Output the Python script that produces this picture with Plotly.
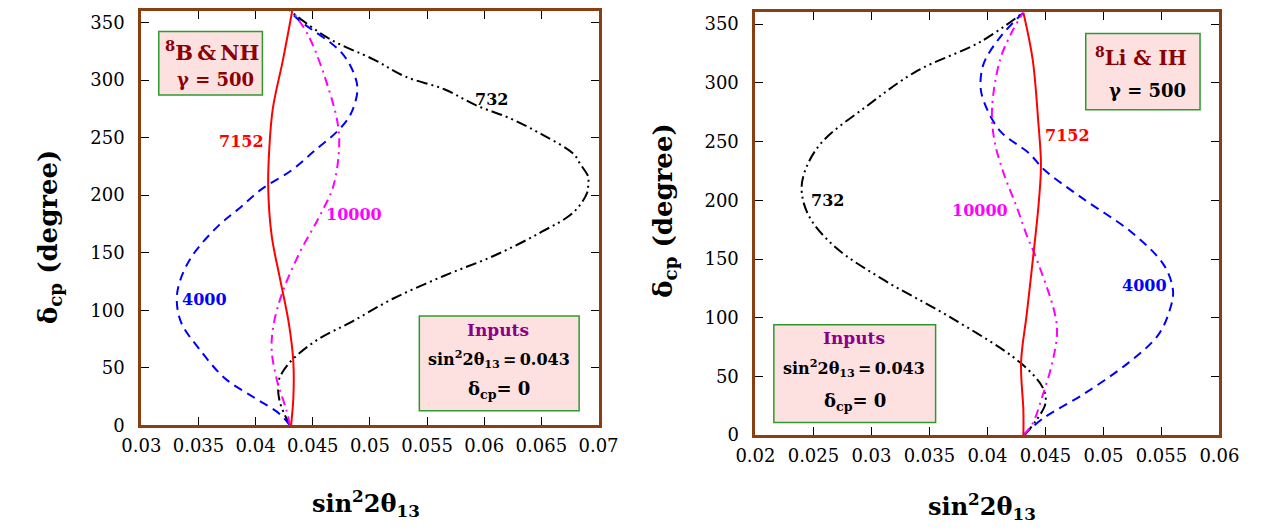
import plotly.graph_objects as go

W, H = 1275, 531
BROWN = "#8B3E12"
SERIF = "DejaVu Serif"

# ---------------- Left panel: 8B & NH ----------------
L732_delta = [0, 21, 38, 47, 58, 75, 90, 110, 130, 148, 168, 185, 202, 210, 216, 227, 236, 253, 267, 278, 292, 303, 318, 335, 354, 360]
L732_s2t = [0.0430, 0.0421, 0.0420, 0.0424, 0.0433, 0.0455, 0.0484, 0.0520, 0.0565, 0.0610, 0.0650, 0.0678, 0.0690, 0.0691,
            0.0691, 0.0684, 0.0678, 0.0650, 0.0622, 0.0593, 0.0565, 0.0531, 0.0503, 0.0466, 0.0438, 0.0430]

L4000_delta = [0, 10, 24, 41, 66, 89, 109, 126, 148, 174, 188, 205, 222, 239, 256, 270, 290, 303, 324, 352, 360]
L4000_s2t = [0.0430, 0.0421, 0.0399, 0.0373, 0.0351, 0.0335, 0.0331, 0.0334, 0.0345, 0.0368, 0.0385, 0.0405, 0.0432,
             0.0452, 0.0472, 0.0483, 0.0489, 0.0487, 0.0475, 0.0438, 0.0430]

L10000_delta = [0, 13, 38, 66, 89, 117, 151, 180, 208, 241, 261, 292, 337, 360]
L10000_s2t = [0.0430, 0.0427, 0.0419, 0.0414, 0.0416, 0.0424, 0.0439, 0.0455, 0.0468, 0.0473, 0.0472, 0.0464, 0.0447, 0.0432]

L7152_delta = [0, 24, 55, 89, 129, 165, 207, 241, 275, 318, 360]
L7152_s2t = [0.0431, 0.0433, 0.0433, 0.0429, 0.0421, 0.0414, 0.0411, 0.0412, 0.0415, 0.0424, 0.0432]

# ---------------- Right panel: 8Li & IH ----------------
R732_delta = [0, 12.5, 27, 40, 62, 101, 132, 160, 185, 206, 223, 248, 281, 310, 335, 360]
R732_s2t = [0.0432, 0.0442, 0.0450, 0.0448, 0.0428, 0.0367, 0.0311, 0.0269, 0.0247, 0.0240, 0.0242, 0.0256, 0.0297,
            0.0339, 0.0394, 0.0431]

R4000_delta = [0, 15, 35, 62, 85, 106, 123, 145, 173, 201, 226, 240, 259, 284, 298, 317, 339, 360]
R4000_s2t = [0.0431, 0.0449, 0.0483, 0.0522, 0.0547, 0.0557, 0.0560, 0.0552, 0.0524, 0.0483, 0.0449, 0.0436, 0.0411,
             0.0397, 0.0394, 0.0397, 0.0411, 0.0431]

R10000_delta = [0, 10, 32, 62, 87, 104, 151, 170, 195, 223, 251, 278, 320, 345, 360]
R10000_s2t = [0.0431, 0.0439, 0.0447, 0.0456, 0.0460, 0.0458, 0.0442, 0.0434, 0.0425, 0.0414, 0.0406, 0.0404, 0.0411,
              0.0422, 0.0431]

R7152_delta = [0, 21, 62, 104, 157, 195, 223, 237, 265, 320, 360]
R7152_s2t = [0.0431, 0.0431, 0.0429, 0.0434, 0.0440, 0.0444, 0.0446, 0.0446, 0.0444, 0.0439, 0.0431]

# tick labels
L_xticks = [0.03, 0.035, 0.04, 0.045, 0.05, 0.055, 0.06, 0.065, 0.07]
L_xtext = ["0.03", "0.035", "0.04", "0.045", "0.05", "0.055", "0.06", "0.065", "0.07"]
R_xticks = [0.02, 0.025, 0.03, 0.035, 0.04, 0.045, 0.05, 0.055, 0.06]
R_xtext = ["0.02", "0.025", "0.03", "0.035", "0.04", "0.045", "0.05", "0.055", "0.06"]
yticks = [0, 50, 100, 150, 200, 250, 300, 350]
ytext = ["0", "50", "100", "150", "200", "250", "300", "350"]

# curve labels (name, x, y, colour) per panel
L_labels = [("7152", 0.03873, 246.6, "red"), ("732", 0.06068, 283.5, "black"),
            ("10000", 0.0486, 183.5, "magenta"), ("4000", 0.03555, 109.7, "blue")]
R_labels = [("7152", 0.04688, 255.6, "red"), ("732", 0.02625, 199.9, "black"),
            ("10000", 0.03938, 191.2, "magenta"), ("4000", 0.05358, 127.6, "blue")]

STY = {
    "732": dict(color="black", width=2, dash="11px,4px,2px,4px,2px,4px"),
    "4000": dict(color="blue", width=2, dash="9px,6px"),
    "10000": dict(color="magenta", width=2, dash="9px,5px,2px,5px"),
    "7152": dict(color="red", width=2),
}

fig = go.Figure()

def add(xs, ys, key, xa, ya):
    fig.add_trace(go.Scatter(x=xs, y=ys, mode="lines", line=dict(shape="spline", smoothing=1.0, **STY[key]),
                             xaxis=xa, yaxis=ya, hoverinfo="skip"))

add(L732_s2t, L732_delta, "732", "x", "y")
add(L4000_s2t, L4000_delta, "4000", "x", "y")
add(L10000_s2t, L10000_delta, "10000", "x", "y")
add(L7152_s2t, L7152_delta, "7152", "x", "y")
add(R732_s2t, R732_delta, "732", "x2", "y2")
add(R4000_s2t, R4000_delta, "4000", "x2", "y2")
add(R10000_s2t, R10000_delta, "10000", "x2", "y2")
add(R7152_s2t, R7152_delta, "7152", "x2", "y2")

def px(xp):
    return xp / W

def py(yp):
    return 1 - yp / H

axis_common = dict(showline=True, linecolor=BROWN, linewidth=3, mirror="ticks", ticks="inside", ticklen=8,
                   tickwidth=1, tickcolor="black", showgrid=False, zeroline=False,
                   tickfont=dict(family=SERIF, size=18, color="black"))

fig.update_layout(
    width=W, height=H, margin=dict(l=0, r=0, t=0, b=0),
    paper_bgcolor="white", plot_bgcolor="white", showlegend=False,
    font=dict(family=SERIF),
    xaxis=dict(domain=[px(117), px(589)], range=[0.03, 0.07], tickvals=L_xticks, ticktext=L_xtext,
               anchor="y", ticklabelstandoff=2, **axis_common),
    yaxis=dict(domain=[py(425), py(1)], range=[0, 360], tickvals=yticks, ticktext=ytext,
               anchor="x", ticklabelstandoff=10, **axis_common),
    xaxis2=dict(domain=[px(751), px(1230)], range=[0.02, 0.06], tickvals=R_xticks, ticktext=R_xtext,
                anchor="y2", ticklabelstandoff=2, **axis_common),
    yaxis2=dict(domain=[py(435), py(2.5)], range=[0, 360], tickvals=yticks, ticktext=ytext,
                anchor="x2", ticklabelstandoff=10, **axis_common),
)

ann = []
for (t, x, y, c) in L_labels:
    ann.append(dict(text="<b>%s</b>" % t, x=x, y=y, xref="x", yref="y", showarrow=False,
                    font=dict(family=SERIF, size=16, color=c)))
for (t, x, y, c) in R_labels:
    ann.append(dict(text="<b>%s</b>" % t, x=x, y=y, xref="x2", yref="y2", showarrow=False,
                    font=dict(family=SERIF, size=16, color=c)))

def txt(s, xp, yp, size, color, angle=0):
    ann.append(dict(text=s, x=px(xp), y=py(yp), xref="paper", yref="paper", showarrow=False,
                    xanchor="center", yanchor="middle", textangle=angle,
                    font=dict(family=SERIF, size=size, color=color)))

# boxes
shapes = []
def box(x0, y0, x1, y1):
    shapes.append(dict(type="rect", xref="paper", yref="paper", x0=px(x0), x1=px(x1), y0=py(y1), y1=py(y0),
                       fillcolor="#FDE0E0", line=dict(color="#2E9A2E", width=1.5), layer="above"))

box(135, 22, 242, 87)
box(1092, 24, 1210, 102)
box(404, 313, 569, 410)
box(770, 322, 937, 422)

DARKRED = "#8B0000"
PURPLE = "#8B008B"
TS = "\u2009"
txt("<b><sup>8</sup>B" + TS + "&" + TS + "NH</b>", 190, 42, 21, DARKRED)
txt("<b>γ = 500</b>", 194, 71, 18, DARKRED)
txt("<b><sup>8</sup>Li & IH</b>", 1149, 48, 20, DARKRED)
txt("<b>γ = 500</b>", 1156, 82, 18, "black")

txt("<b>Inputs</b>", 485, 327, 17, PURPLE)
txt("<b>sin<sup>2</sup>2θ<sub>13</sub>" + TS + "=" + TS + "0.043</b>", 486, 357, 16, "black")
txt("<b>δ<sub>cp</sub>= 0</b>", 486, 389, 18, "black")
txt("<b>Inputs</b>", 853, 336, 17, PURPLE)
txt("<b>sin<sup>2</sup>2θ<sub>13</sub>" + TS + "=" + TS + "0.043</b>", 853, 366, 16, "black")
txt("<b>δ<sub>cp</sub>= 0</b>", 854, 401, 18, "black")

# axis titles
txt("<b>δ<sub>cp</sub> (degree)</b>", 22, 232, 26, "black", angle=-90)
txt("<b>δ<sub>cp</sub> (degree)</b>", 657, 205, 26, "black", angle=-90)
txt("<b>sin<sup>2</sup>2θ<sub>13</sub></b>", 349, 505, 24, "black")
txt("<b>sin<sup>2</sup>2θ<sub>13</sub></b>", 985, 508, 24, "black")

fig.update_layout(annotations=ann, shapes=shapes)
fig.write_html("out.html")
